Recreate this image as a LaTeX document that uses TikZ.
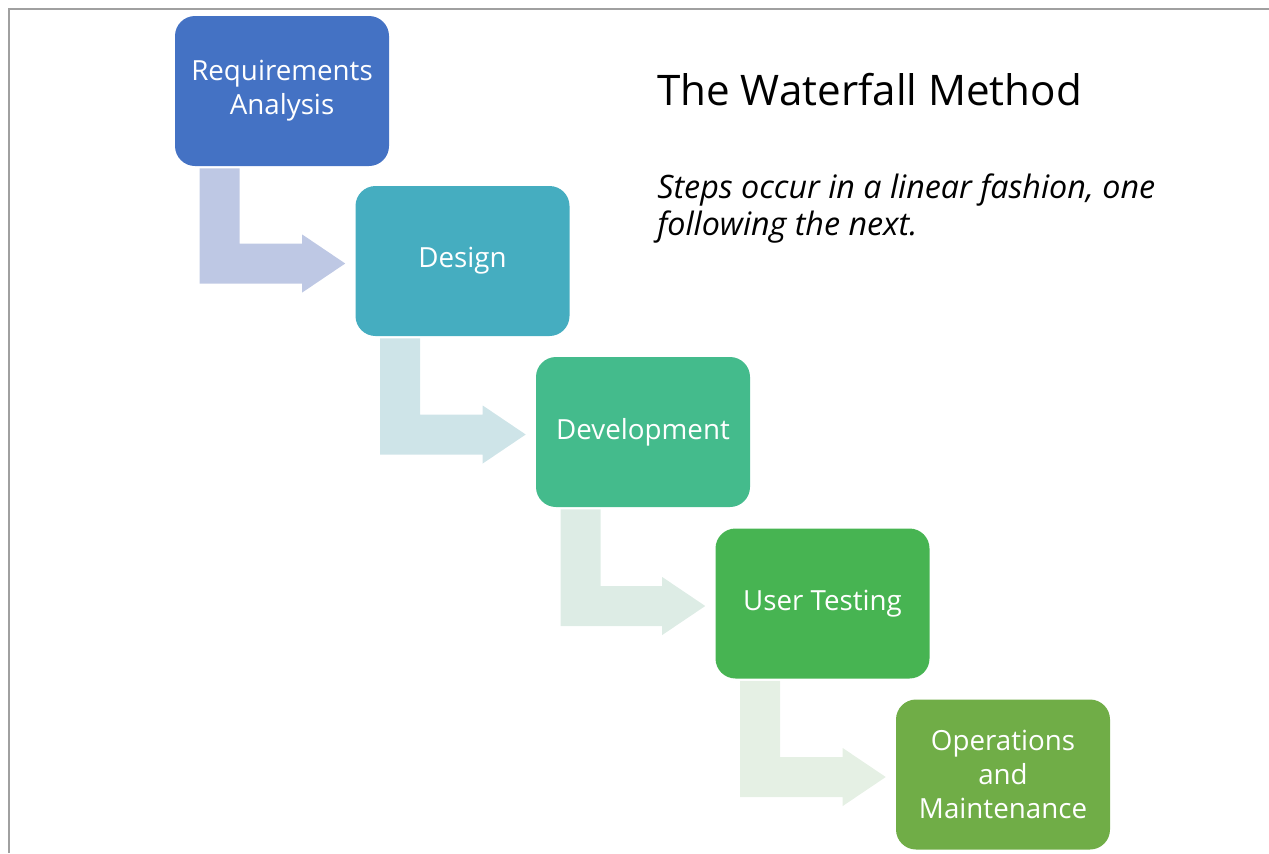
\documentclass[tikz,border=0pt]{standalone}
\usepackage{fontspec}
\setmainfont{Open Sans}
\usepackage{xcolor}
\usetikzlibrary{calc}

\definecolor{stepA}{RGB}{68,114,196}
\definecolor{stepB}{RGB}{69,173,192}
\definecolor{stepC}{RGB}{68,187,140}
\definecolor{stepD}{RGB}{71,180,82}
\definecolor{stepE}{RGB}{112,173,71}
\definecolor{flowA}{RGB}{190,200,228}
\definecolor{flowB}{RGB}{206,228,232}
\definecolor{flowC}{RGB}{221,236,229}
\definecolor{flowD}{RGB}{229,240,228}
\definecolor{framegray}{RGB}{160,160,160}

\tikzset{
  stepbox/.style={rounded corners=15pt, minimum width=160.5pt, minimum height=112.5pt,
    inner sep=0.75pt, align=center, text=white, font=\fontsize{20.8}{25.5}\selectfont},
}

\begin{document}
\begin{tikzpicture}[x=0.75pt,y=0.75pt,yscale=-1,xscale=1]
\useasboundingbox (0,0) rectangle (1269,853);

%Frame
\draw [color=framegray, line width=1.5pt] (8.5,853) -- (8.5,8.5) -- (1269,8.5) ;

%Rounded Rect
\node [stepbox, fill=stepA] (req) at (282,91) {Requirements\\Analysis};
%Rounded Rect
\node [stepbox, fill=stepB] (des) at (462.5,261) {Design};
%Rounded Rect
\node [stepbox, fill=stepC] (dev) at (643,432) {Development};
%Rounded Rect
\node [stepbox, fill=stepD] (usr) at (822.5,603.5) {User Testing};
%Rounded Rect
\node [stepbox, fill=stepE] (ops) at (1003,774.5) {Operations\\and\\Maintenance};

%Bent Arrows
\foreach \a/\b/\c in {req/des/flowA, des/dev/flowB, dev/usr/flowC, usr/ops/flowD}{
  \coordinate (s) at ($(\a.south west)+(25,2)$);
  \coordinate (t) at ($(\b.west)+(-10,2.5)$);
  \fill [\c] (s) -- ++(40,0) -- ($(s |- t)+(40,-20)$) -- ($(t)+(-43,-20)$)
    -- ($(t)+(-43,-29)$) -- (t) -- ($(t)+(-43,29)$) -- ($(t)+(-43,20)$)
    -- ($(s |- t)+(0,20)$) -- cycle ;
}

% Text Node
\node [anchor=base west, inner sep=0pt, font=\fontsize{31.6}{38}\selectfont] (title) at (657,105) {The Waterfall Method};
% Text Node
\node [anchor=base west, inner sep=0pt, font=\fontsize{24.2}{29}\selectfont\itshape] (sub) at (657,198) {Steps occur in a linear fashion, one};
\node [anchor=base west, inner sep=0pt, font=\fontsize{24.2}{29}\selectfont\itshape] (sub2) at (657,235) {following the next.};

\end{tikzpicture}
\end{document}
